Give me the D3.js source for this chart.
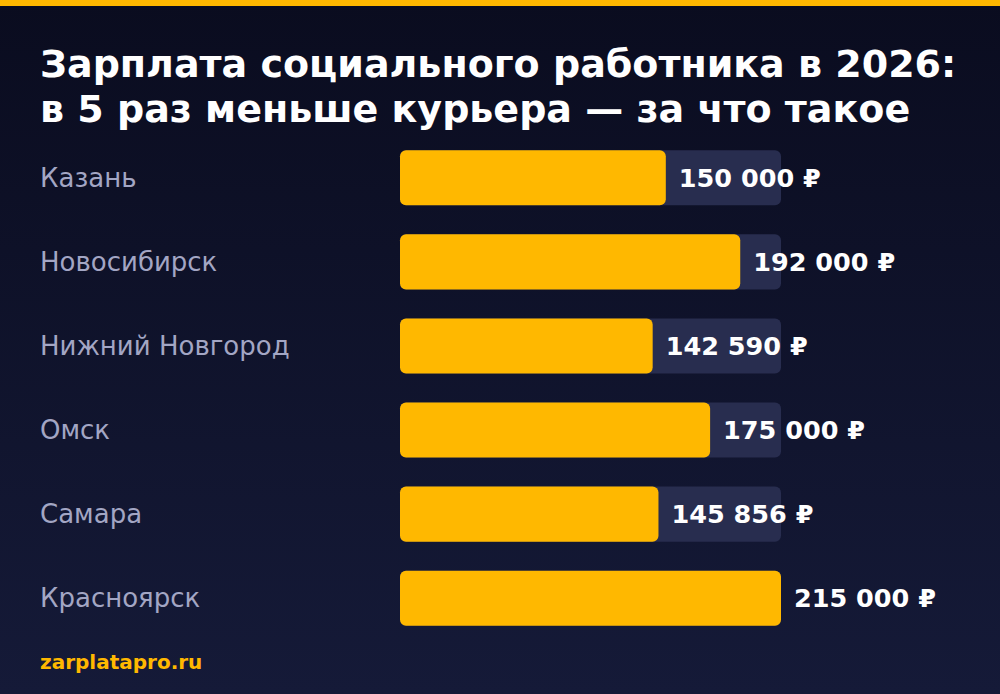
<!DOCTYPE html>
<html>
<head>
<meta charset="utf-8">
<title>Зарплата социального работника</title>
<style>
  body { margin: 0; background: #0f1229; }
  svg { display: block; }
  text { font-family: 'DejaVu Sans', sans-serif; }
</style>
</head>
<body>
<svg id="chart" width="1000" height="694"></svg>
<script src="https://cdn.jsdelivr.net/npm/d3@7"></script>
<script>
var cities = ["Казань", "Новосибирск", "Нижний Новгород", "Омск", "Самара", "Красноярск"];
var salaries = [150000, 192000, 142590, 175000, 145856, 215000];
var titleLines = ["Зарплата социального работника в 2026:", "в 5 раз меньше курьера — за что такое"];

var svg = d3.select("#chart");
var defs = svg.append("defs");
var grad = defs.append("linearGradient").attr("id", "bg").attr("x1", 0).attr("y1", 0).attr("x2", 0).attr("y2", 1);
grad.append("stop").attr("offset", "0%").attr("stop-color", "#0a0c1f");
grad.append("stop").attr("offset", "100%").attr("stop-color", "#151a38");

svg.append("rect").attr("width", 1000).attr("height", 694).attr("fill", "url(#bg)");
svg.append("rect").attr("width", 1000).attr("height", 6).attr("fill", "#ffb800");

svg.selectAll("text.title").data(titleLines).enter().append("text")
  .attr("class", "title")
  .attr("x", 40).attr("y", function(d, i) { return 77 + i * 45; })
  .attr("fill", "#fff").attr("font-size", 38).attr("font-weight", "bold")
  .text(function(d) { return d; });

var x = d3.scaleLinear().domain([0, d3.max(salaries)]).range([0, 381]);
var y = d3.scaleBand().domain(cities).range([136, 640]).paddingInner(0.345).paddingOuter(0.17);
var fmt = function(v) { return d3.format(",")(v).replace(/,/g, " ") + " ₽"; };

var rows = svg.selectAll("g.row").data(cities).enter().append("g")
  .attr("class", "row")
  .attr("transform", function(d) { return "translate(0," + y(d) + ")"; });

rows.append("text").attr("x", 40).attr("y", y.bandwidth() / 2).attr("dy", "0.35em")
  .attr("fill", "#a3a6c4").attr("font-size", 26)
  .text(function(d) { return d; });

rows.append("rect").attr("x", 400).attr("width", 381).attr("height", y.bandwidth())
  .attr("rx", 6).attr("fill", "#282d4f");

rows.append("rect").attr("x", 400)
  .attr("width", function(d, i) { return x(salaries[i]); })
  .attr("height", y.bandwidth()).attr("rx", 6).attr("fill", "#ffb800");

rows.append("text")
  .attr("x", function(d, i) { return 400 + x(salaries[i]) + 13; })
  .attr("y", y.bandwidth() / 2).attr("dy", "0.35em")
  .attr("fill", "#fff").attr("font-size", 25.5).attr("font-weight", "bold")
  .text(function(d, i) { return fmt(salaries[i]); });

svg.append("text").attr("x", 40).attr("y", 669)
  .attr("fill", "#ffb800").attr("font-size", 20).attr("font-weight", "bold")
  .text("zarplatapro.ru");
</script>
</body>
</html>
